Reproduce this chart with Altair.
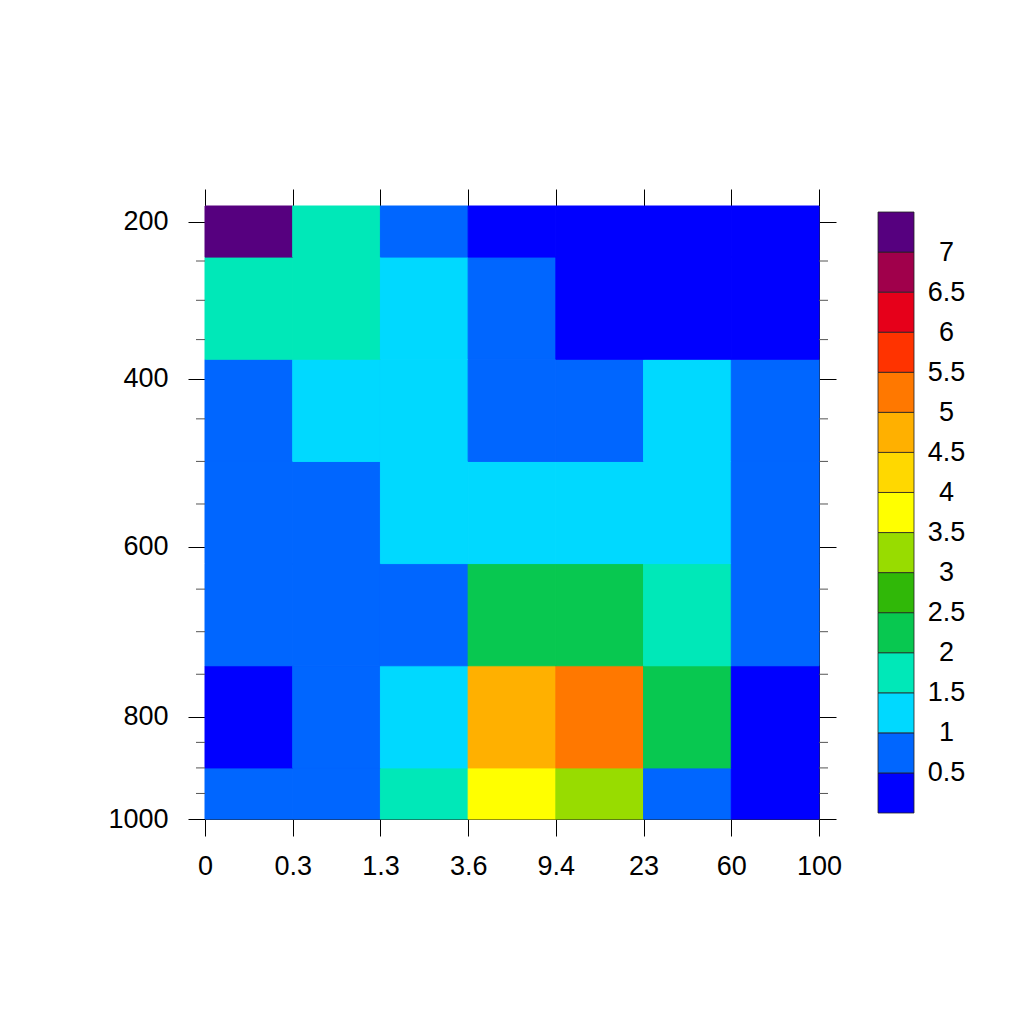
import altair as alt
import pandas as pd

# ---- data ----
levels = [1000, 800, 680, 560, 440, 310, 180]          # vertical coordinate (bottom -> top)
x_labels = ["0", "0.3", "1.3", "3.6", "9.4", "23", "60", "100"]
y_ticks = [200, 400, 600, 800, 1000]
y_minor = [250, 300, 350, 450, 500, 550, 650, 700, 750, 850, 900, 950]

# cell values, rows listed top (180) -> bottom (1000), columns left -> right
row_180 = [7.4, 1.8, 0.8, 0.3, 0.2, 0.2, 0.2]
row_310 = [1.7, 1.8, 1.3, 0.8, 0.3, 0.2, 0.2]
row_440 = [0.8, 1.2, 1.3, 0.7, 0.8, 1.2, 0.7]
row_560 = [0.7, 0.9, 1.2, 1.3, 1.4, 1.2, 0.8]
row_680 = [0.8, 0.9, 0.9, 2.2, 2.3, 1.7, 0.7]
row_800 = [0.4, 0.8, 1.3, 4.7, 5.2, 2.3, 0.4]
row_1000 = [0.6, 0.7, 1.6, 3.8, 3.2, 0.8, 0.3]
rows_bottom_up = [row_1000, row_800, row_680, row_560, row_440, row_310, row_180]

thresholds = [0.5, 1, 1.5, 2, 2.5, 3, 3.5, 4, 4.5, 5, 5.5, 6, 6.5, 7]
threshold_labels = ["0.5", "1", "1.5", "2", "2.5", "3", "3.5", "4", "4.5", "5", "5.5", "6", "6.5", "7"]
colors = ["#0000FF", "#0066FF", "#00D9FF", "#00E8B8", "#08C850", "#30B808", "#98DC00",
          "#FFFF00", "#FFD800", "#FFB000", "#FF7800", "#FF3300", "#E6001A", "#A0004B", "#56007F"]

# ---- build tables ----
n = len(levels)
recs = []
for k, row in enumerate(rows_bottom_up):
    lo = levels[0] if k == 0 else (levels[k - 1] + levels[k]) / 2
    hi = levels[-1] if k == n - 1 else (levels[k] + levels[k + 1]) / 2
    for i, v in enumerate(row):
        recs.append({"x0": i, "x1": i + 1, "p0": lo, "p1": hi, "val": v})
cells = pd.DataFrame(recs)
minor = pd.DataFrame({"p": y_minor})

W, H = 614, 613
FONT = "Liberation Sans"
FS = 27

asc_levels = levels[::-1]
yscale = alt.Scale(type="linear", domain=asc_levels,
                   range=[k * H / (n - 1) for k in range(n)], zero=False, nice=False)
xscale = alt.Scale(domain=[0, len(x_labels) - 1], zero=False, nice=False)
cscale = alt.Scale(type="threshold", domain=thresholds, range=colors)

lab_js = "[" + ",".join("'" + s + "'" for s in x_labels) + "]"

axis_common = dict(domainColor="#222", domainWidth=1, tickColor="black", tickWidth=1,
                   tickSize=17, grid=False, labelFont=FONT, labelFontSize=FS,
                   labelColor="black", title=None, labelFlush=False, labelOverlap=False)

base = alt.Chart(cells)
cells_layer = base.mark_rect(strokeWidth=1).encode(
    x=alt.X("x0:Q", scale=xscale,
            axis=alt.Axis(orient="bottom", values=list(range(len(x_labels))),
                          labelExpr=lab_js + "[datum.value]", labelPadding=17, **axis_common)),
    x2="x1:Q",
    y=alt.Y("p0:Q", scale=yscale,
            axis=alt.Axis(orient="left", values=y_ticks, format="d", labelPadding=20, **axis_common)),
    y2="p1:Q",
    color=alt.Color("val:Q", scale=cscale, legend=None),
    stroke=alt.Stroke("val:Q", scale=cscale, legend=None),
)

frame_layer = base.mark_rect(opacity=0).encode(
    x=alt.X("x0:Q", scale=xscale,
            axis=alt.Axis(orient="top", values=list(range(len(x_labels))), labels=False, **axis_common)),
    x2="x1:Q",
    y=alt.Y("p0:Q", scale=yscale,
            axis=alt.Axis(orient="right", values=y_ticks, labels=False, **axis_common)),
    y2="p1:Q",
)

minor_left = alt.Chart(minor).mark_rule(color="#555", strokeWidth=1).encode(
    y=alt.Y("p:Q", scale=yscale, axis=None),
    x=alt.value(0), x2=alt.value(-9),
)
minor_right = alt.Chart(minor).mark_rule(color="#555", strokeWidth=1).encode(
    y=alt.Y("p:Q", scale=yscale, axis=None),
    x=alt.value(W), x2=alt.value(W + 9),
)

main = alt.layer(cells_layer, frame_layer, minor_left, minor_right).resolve_axis(
    x="independent", y="independent"
).properties(width=W, height=H)

# ---- colour bar ----
leg_df = pd.DataFrame({"i0": list(range(len(colors))),
                       "i1": list(range(1, len(colors) + 1)),
                       "col": colors})
leg_js = "[''," + ",".join("'" + s + "'" for s in threshold_labels) + "]"
legend = alt.Chart(leg_df).mark_rect(stroke="#222", strokeWidth=0.8).encode(
    x=alt.value(0), x2=alt.value(36),
    y=alt.Y("i0:Q", scale=alt.Scale(domain=[0, len(colors)], zero=False, nice=False, padding=6),
            axis=alt.Axis(orient="right", values=list(range(1, len(colors))),
                          labelExpr=leg_js + "[datum.value]", tickSize=0, domain=False,
                          grid=False, labelPadding=32, labelFont=FONT, labelFontSize=FS,
                          labelColor="black", labelAlign="center", labelFlush=False,
                          labelOverlap=False, title=None)),
    y2="i1:Q",
    color=alt.Color("col:N", scale=None),
).properties(width=36, height=H)

chart = alt.hconcat(main, legend, spacing=59, bounds="flush").properties(
    padding={"left": 99, "top": 180, "right": 5, "bottom": 5}
).configure_view(stroke=None)

chart.save("out.html", embed_options={"renderer": "svg", "actions": False})
